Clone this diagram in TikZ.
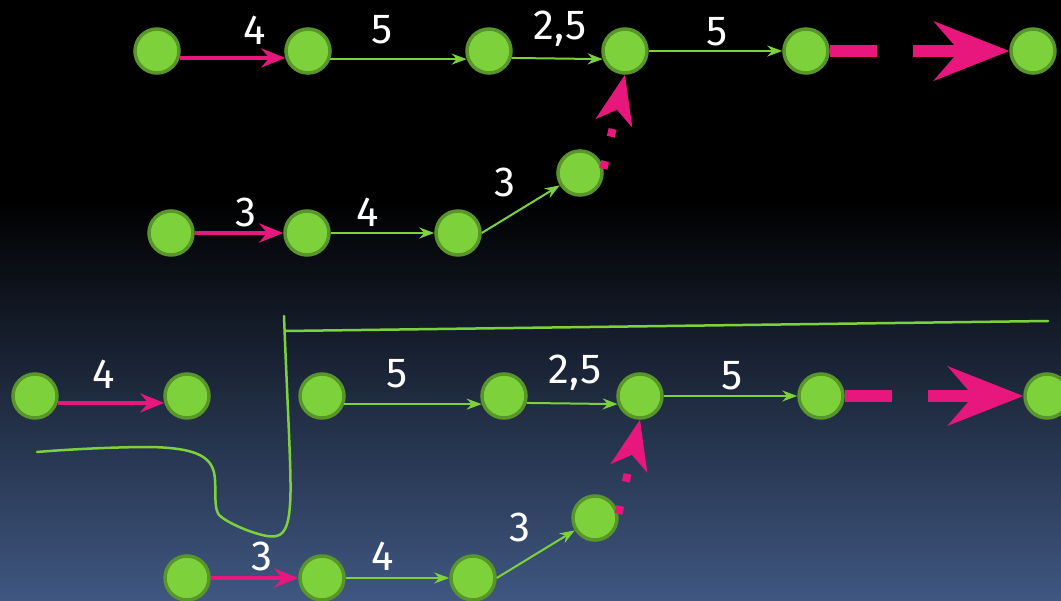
\documentclass[tikz,border=0pt]{standalone}
\usepackage{fontspec}
\setmainfont{Fira Sans}
\usetikzlibrary{arrows.meta}
\definecolor{NodeGreen}{HTML}{7DD23C}
\definecolor{NodeRim}{HTML}{58962A}
\definecolor{ArrowPink}{HTML}{E8177D}
\definecolor{SkyBottom}{HTML}{3F5781}
\tikzset{
    % Vertex style
    vertex/.style={
        circle,
        fill=NodeGreen,
        draw=NodeRim,
        line width=3.5pt,
        minimum size=44pt,
        inner sep=0pt
    },
    % Edge weight label
    weight/.style={
        text=white,
        inner sep=0pt,
        font=\fontsize{42}{48}\selectfont
    },
    % Pink arrow (chosen edge)
    pinkarrow/.style={
        -{Stealth[length=24pt,width=19pt,inset=8pt]},
        line width=4.5pt,
        draw=ArrowPink
    },
    % Green arrow (plain edge)
    greenarrow/.style={
        -{Stealth[length=15pt,width=11pt,inset=5pt]},
        line width=2pt,
        draw=NodeGreen
    },
    % Thick dashed arrow
    bigdash/.style={
        -{Stealth[length=76pt,width=60pt,inset=26pt,line width=0pt]},
        line width=12pt,
        draw=ArrowPink,
        dash pattern=on 47pt off 36pt on 300pt
    },
    % Dotted arrow
    dotarrow/.style={
        -{Stealth[length=50pt,width=38pt,inset=14pt,line width=0pt]},
        line width=8pt,
        draw=ArrowPink,
        dash pattern=on 8pt off 25pt
    },
    % Hand drawn stroke
    penline/.style={
        line width=2.5pt,
        draw=NodeGreen,
        line cap=round
    }
}
\begin{document}
\begin{tikzpicture}[x=1pt,y=-1pt]
    \useasboundingbox (0,0) rectangle (1061,601);
    \fill[black] (0,0) rectangle (1061,601);
    \shade[top color=black, bottom color=SkyBottom] (0,200) rectangle (1061,601);

    % top graph
    \node[vertex] (a1) at (157,51) {};
    \node[vertex] (a2) at (308,51) {};
    \node[vertex] (a3) at (489,51) {};
    \node[vertex] (a4) at (625,51) {};
    \node[vertex] (a5) at (806,51) {};
    \node[vertex] (a6) at (1033,51) {};
    \node[vertex] (b1) at (171,233) {};
    \node[vertex] (b2) at (307,233) {};
    \node[vertex] (b3) at (458,233) {};
    \node[vertex] (b4) at (580,173) {};

    \draw[pinkarrow] (a1.-17) -- (a2.197);
    \draw[greenarrow] (a2.-20) -- (a3.200);
    \draw[greenarrow] (a3.-17) -- (a4.200);
    \draw[greenarrow] (a4) -- (a5);
    \draw[bigdash] (a5) -- (a6);
    \draw[pinkarrow] (b1) -- (b2);
    \draw[greenarrow] (b2) -- (b3);
    \draw[greenarrow] (b3.east) -- (b4);
    \draw[dotarrow] (b4.10) -- (a4.south);

    \node[weight] (wa12) at (255,30) {4};
    \node[weight] (wa23) at (382,30) {5};
    \node[weight] (wa34) at (560,29) {2,5};
    \node[weight] (wa45) at (717,32) {5};
    \node[weight] (wb12) at (246,212) {3};
    \node[weight] (wb23) at (368,212) {4};
    \node[weight] (wb34) at (505,182) {3};

    % bottom graph
    \node[vertex] (c1) at (35,396) {};
    \node[vertex] (c2) at (187,396) {};
    \node[vertex] (d1) at (322,396) {};
    \node[vertex] (d2) at (504,396) {};
    \node[vertex] (d3) at (640,396) {};
    \node[vertex] (d4) at (821,396) {};
    \node[vertex] (d5) at (1047,396) {};
    \node[vertex] (e1) at (187,578) {};
    \node[vertex] (e2) at (322,578) {};
    \node[vertex] (e3) at (473,578) {};
    \node[vertex] (e4) at (595,518) {};

    \draw[pinkarrow] (c1.-17) -- (c2.197);
    \draw[greenarrow] (d1.-20) -- (d2.200);
    \draw[greenarrow] (d2.-17) -- (d3.200);
    \draw[greenarrow] (d3) -- (d4);
    \draw[bigdash] (d4) -- (d5);
    \draw[pinkarrow] (e1) -- (e2);
    \draw[greenarrow] (e2) -- (e3);
    \draw[greenarrow] (e3.east) -- (e4);
    \draw[dotarrow] (e4.10) -- (d3.south);

    \node[weight] (wc12) at (104,374) {4};
    \node[weight] (wd12) at (397,374) {5};
    \node[weight] (wd23) at (575,373) {2,5};
    \node[weight] (wd34) at (732,376) {5};
    \node[weight] (we12) at (262,556) {3};
    \node[weight] (we23) at (383,556) {4};
    \node[weight] (we34) at (520,527) {3};

    % pen strokes
    \draw[penline] (285,331) -- (1048,321);
    \draw[penline] (284,316) .. controls (288,420) and (292,480) .. (290,505)
        .. controls (288,535) and (280,538) .. (267,536)
        .. controls (250,533) and (226,522) .. (219,515)
        .. controls (214,508) and (216,495) .. (215,480)
        .. controls (214,458) and (200,448) .. (150,447)
        .. controls (110,447) and (60,450) .. (37,452);
\end{tikzpicture}
\end{document}
